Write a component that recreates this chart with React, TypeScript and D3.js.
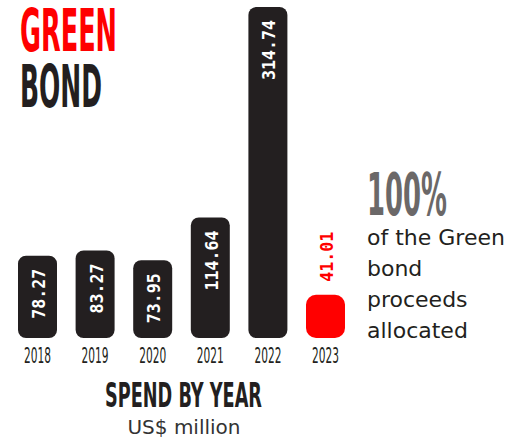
import React from "react";
import * as d3 from "d3";

const years = ["2018", "2019", "2020", "2021", "2022", "2023"];
const values = [78.27, 83.27, 73.95, 114.64, 314.74, 41.01];
const valueLabels = ["78.27", "83.27", "73.95", "114.64", "314.74", "41.01"];
const highlightYear = "2023";
const bodyLines = ["of the Green", "bond", "proceeds", "allocated"];

const W = 514;
const H = 444;
const RED = "#ff0000";
const DARK = "#231f20";
const COND = "'Liberation Sans Narrow', 'DejaVu Sans Condensed', 'Arial Narrow', sans-serif";
const BODY = "'DejaVu Sans', 'Open Sans', sans-serif";

export default function App() {
  const x = d3.scaleBand<string>().domain(years).range([8.7, 354.3]).paddingInner(0.323).paddingOuter(0.1615);
  const y = d3.scaleLinear().domain([0, 314.74]).range([338, 7]);
  const bw = x.bandwidth();

  return (
    <svg width={W} height={H} style={{ position: "absolute", left: 0, top: 0, background: "#fff" }}>
      <text x={20} y={51} fill={RED} fontFamily={COND} fontWeight={700} fontSize={58} textLength={97} lengthAdjust="spacingAndGlyphs">GREEN</text>
      <text x={20} y={107} fill={DARK} fontFamily={COND} fontWeight={700} fontSize={58} textLength={82} lengthAdjust="spacingAndGlyphs">BOND</text>

      {years.map((yr, i) => {
        const v = values[i];
        const x0 = x(yr)!;
        const cx = x0 + bw / 2;
        const top = y(v);
        const hl = yr === highlightYear;
        const color = hl ? RED : DARK;
        const ly = hl ? top - 13 : top + 13;
        return (
          <g key={yr}>
            <rect x={x0} y={top} width={bw} height={y(0) - top} rx={hl ? 10 : 8} ry={hl ? 10 : 8} fill={color} />
            <text
              transform={`translate(${cx + 1},${ly}) rotate(-90)`}
              textAnchor={hl ? "start" : "end"}
              dominantBaseline="central"
              fill={hl ? RED : "#fff"}
              fontFamily="'DejaVu Sans Mono', monospace"
              fontWeight={700}
              fontSize={18}
              textLength={valueLabels[i].length * 10}
              lengthAdjust="spacingAndGlyphs"
            >
              {valueLabels[i]}
            </text>
            <text x={cx} y={363} textAnchor="middle" fill={DARK} fontFamily={COND} fontSize={22} textLength={27} lengthAdjust="spacingAndGlyphs">{yr}</text>
          </g>
        );
      })}

      <text x={183.5} y={407} textAnchor="middle" fill={DARK} fontFamily={COND} fontWeight={700} fontSize={33} textLength={157} lengthAdjust="spacingAndGlyphs">SPEND BY YEAR</text>
      <text x={184} y={434} textAnchor="middle" fill="#333" fontFamily={BODY} fontSize={20}>US$ million</text>

      <text x={367} y={215} fill="#6b6868" fontFamily={COND} fontWeight={700} fontSize={58} textLength={80} lengthAdjust="spacingAndGlyphs">100%</text>
      {bodyLines.map((t, i) => (
        <text key={t} x={367} y={245 + i * 31} fill="#231f20" fontFamily={BODY} fontSize={22}>{t}</text>
      ))}
    </svg>
  );
}
